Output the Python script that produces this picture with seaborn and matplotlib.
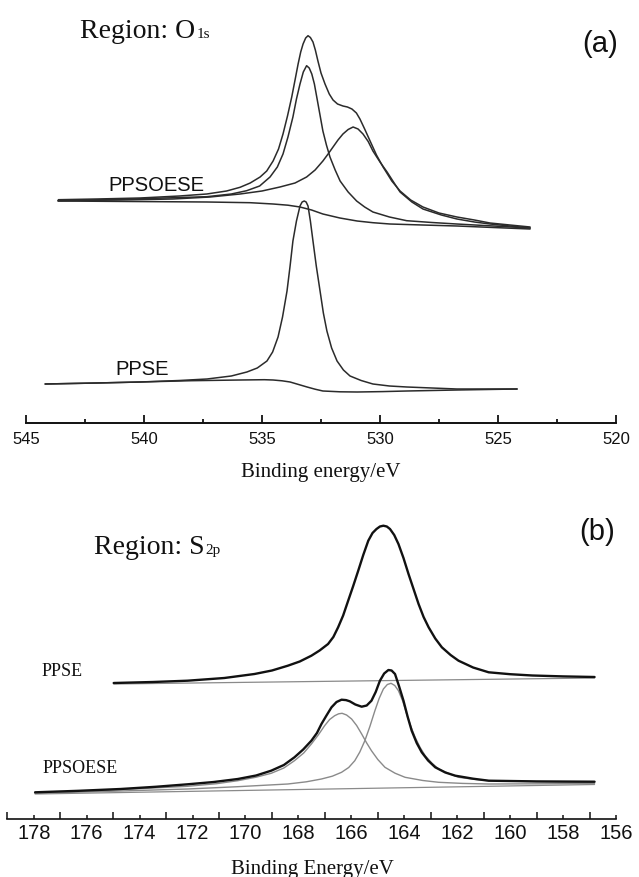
import matplotlib
matplotlib.use("Agg")
import matplotlib.pyplot as plt
import seaborn as sns
import pandas as pd

# ---------------- data ----------------
# Panel (a): O1s region, binding energy (eV) / intensity (a.u.)
o1s_soese_env_e = [543.63, 542.0, 540.17, 538.5, 537.34, 536.5, 535.93, 535.5, 535.08, 534.8,
                   534.53, 534.3, 534.11, 533.92, 533.74, 533.6, 533.47, 533.36, 533.26, 533.15,
                   533.05, 532.95, 532.84, 532.74, 532.63, 532.5, 532.33, 532.15, 531.99, 531.8,
                   531.57, 531.38, 531.19, 531.0, 530.85, 530.65, 530.42, 530.15, 529.87, 529.5,
                   529.15, 528.7, 528.18, 527.5, 526.74, 526.0, 525.34, 524.5, 523.64]
o1s_soese_env_i = [229.3, 230, 231, 233, 235, 238, 241.7, 246, 252, 258,
                   268, 280, 295, 313, 332, 349, 365, 377, 385, 391,
                   393.3, 391.5, 387, 379, 368, 356, 345, 335, 329, 325,
                   323, 322, 320, 316, 310, 300, 288, 274, 262, 248,
                   238, 229, 222, 216, 212, 209, 206, 204, 202]
o1s_soese_c1_e = [543.64, 540.5, 537.34, 536.3, 535.65, 535.1, 534.66, 534.35, 534.11, 533.9,
                  533.69, 533.54, 533.39, 533.25, 533.11, 533.0, 532.89, 532.78, 532.68, 532.55,
                  532.42, 532.27, 532.12, 531.9, 531.69, 531.35, 530.99, 530.65, 530.30, 529.6,
                  528.87, 527.8, 526.75, 525.2, 523.64]
o1s_soese_c1_i = [228.3, 230, 232.3, 235, 238.3, 243, 252, 262, 275, 292,
                  312, 330, 345, 357, 363.3, 361, 355, 345, 332, 315,
                  298, 284, 272, 259, 248, 237, 228, 222, 217, 212,
                  208.3, 206.5, 205, 203, 201]
o1s_soese_c2_e = [543.64, 541.0, 538.77, 537.2, 535.93, 535.0, 534.24, 533.6, 533.11, 532.75,
                  532.42, 532.2, 531.99, 531.78, 531.57, 531.35, 531.14, 530.93, 530.72, 530.5,
                  530.30, 530.0, 529.70, 529.4, 529.15, 528.65, 528.18, 527.4, 526.74, 526.0,
                  525.34, 524.5, 523.64]
o1s_soese_c2_i = [228.3, 229, 230, 232, 235, 238, 242, 246, 252, 259,
                  268, 275, 282, 289, 295, 299.5, 302, 300, 295, 287.5,
                  278, 267, 257, 246, 237, 227, 220, 214, 210, 207,
                  205, 203, 201]
o1s_soese_bg_e = [543.64, 540.5, 537.33, 535.5, 534.53, 533.9, 533.39, 532.9, 532.42, 531.7,
                  530.97, 530.3, 529.58, 528.2, 526.74, 525.2, 523.64]
o1s_soese_bg_i = [228, 227.5, 227, 226.3, 225, 223.8, 222, 219, 215, 211,
                  208, 206.3, 205, 204, 203, 201.5, 200]

o1s_pse_env_e = [544.19, 542.0, 540.17, 538.5, 537.33, 536.3, 535.64, 535.2, 534.79, 534.55,
                 534.32, 534.13, 533.94, 533.81, 533.69, 533.54, 533.39, 533.30, 533.21, 533.13,
                 533.05, 532.95, 532.84, 532.70, 532.54, 532.40, 532.25, 532.05, 531.82, 531.55,
                 531.27, 530.8, 530.30, 529.6, 528.86, 527.8, 526.74, 525.5, 524.19]
o1s_pse_env_i = [45, 46, 47, 48.5, 50, 53, 57, 61, 68, 77,
                 92, 112, 138, 163, 188, 208, 223, 227, 228, 227,
                 223, 208, 188, 163, 138, 116, 98, 81, 68, 59,
                 53, 48.5, 45, 43, 42, 41, 40, 40, 40]
o1s_pse_bg_e = [544.19, 542.0, 540.17, 538.0, 535.93, 534.9, 534.53, 534.15, 533.81, 533.45,
                533.09, 532.75, 532.42, 531.7, 530.97, 529.9, 528.86, 526.74, 524.19]
o1s_pse_bg_i = [45, 46, 47, 48.3, 49, 49.3, 49, 48.2, 47, 44.5,
                42, 39.8, 38, 37.2, 37, 37.4, 38, 39, 40]

o1s_ticks = [545, 540, 535, 530, 525, 520]
o1s_minor = [542.5, 537.5, 532.5, 527.5, 522.5]

# Panel (b): S2p region
s2p_pse_env_e = [174.98, 173.5, 172.19, 170.8, 169.66, 169.0, 168.40, 167.95, 167.51, 167.2,
                 166.88, 166.68, 166.50, 166.31, 166.12, 165.93, 165.74, 165.55, 165.36, 165.2,
                 165.05, 164.92, 164.79, 164.66, 164.54, 164.38, 164.22, 164.03, 163.84, 163.65,
                 163.46, 163.27, 163.08, 162.83, 162.58, 162.25, 161.95, 161.4, 160.81, 160.0,
                 159.16, 158.0, 156.81]
s2p_pse_env_i = [146, 147, 148.3, 151, 155, 158.5, 163.3, 167.5, 173.3, 178.5,
                 185, 192, 201.7, 213.5, 228.3, 243, 258.3, 274, 288.3, 296,
                 300, 302.5, 303.3, 302.5, 300, 294, 285, 271, 255, 240,
                 225, 212, 201.7, 190.5, 181.7, 174, 168.3, 161.5, 156.7, 154.8,
                 153.5, 152.6, 152]
s2p_pse_bg_e = [174.98, 156.81]
s2p_pse_bg_i = [145, 151]

s2p_soese_env_e = [177.95, 176.3, 174.72, 173.4, 172.19, 171.2, 170.29, 169.6, 169.03, 168.55,
                   168.15, 167.82, 167.51, 167.3, 167.13, 166.94, 166.75, 166.56, 166.37, 166.2,
                   166.06, 165.85, 165.61, 165.42, 165.24, 165.08, 164.92, 164.76, 164.60, 164.48,
                   164.35, 164.2, 164.03, 163.87, 163.72, 163.53, 163.34, 163.1, 162.83, 162.45,
                   162.07, 161.4, 160.81, 159.0, 156.81]
s2p_soese_env_i = [36.7, 38.2, 40, 42.2, 44.7, 47, 50, 53.5, 58.3, 64,
                   71.7, 79.5, 88.3, 96, 105, 113.5, 121.7, 127, 129.3, 128.9,
                   127.7, 124.5, 122.3, 123.5, 128.3, 137, 148.3, 155.5, 159, 158.5,
                   155, 143, 128.3, 112, 98.3, 86, 76.7, 68.5, 61.7, 56.5,
                   53.3, 50.3, 48.3, 47.6, 47.3]
s2p_soese_cb_e = [177.95, 175.0, 172.19, 171.1, 170.29, 169.6, 169.03, 168.55, 168.15, 167.8,
                  167.51, 167.25, 167.01, 166.82, 166.63, 166.48, 166.35, 166.18, 165.99, 165.8,
                  165.61, 165.42, 165.24, 165.0, 164.73, 164.35, 163.97, 163.3, 162.70, 161.8,
                  160.81, 158.8, 156.81]
s2p_soese_cb_i = [35.7, 39, 42.7, 45.3, 48.3, 51.8, 55.7, 61, 68.3, 76,
                  85, 94, 103.3, 109.5, 113.3, 115.2, 115.7, 114, 110, 103.5,
                  95, 86, 78.3, 69.5, 61.7, 55.8, 51.7, 48.5, 46.7, 45.6,
                  45, 45.2, 45.5]
s2p_soese_ca_e = [177.95, 175.0, 172.19, 170.3, 168.40, 167.7, 167.13, 166.72, 166.37, 166.1,
                  165.87, 165.68, 165.49, 165.3, 165.11, 164.95, 164.79, 164.64, 164.50, 164.36,
                  164.22, 164.06, 163.91, 163.75, 163.59, 163.4, 163.21, 162.95, 162.70, 162.3,
                  161.95, 161.4, 160.81, 158.8, 156.81]
s2p_soese_ca_i = [35.7, 37.8, 40, 42.3, 45, 47.2, 50, 52.8, 56.7, 61.5,
                  68.3, 77, 88.3, 102.5, 118.3, 130.5, 140, 144.5, 145.7, 143.5,
                  138.3, 128, 115, 102.5, 91.7, 81.5, 73.3, 65.7, 60, 55.3,
                  51.7, 49.8, 48.3, 47.2, 46.5]
s2p_soese_bg_e = [177.95, 156.81]
s2p_soese_bg_i = [35, 44.5]

s2p_ticks = list(range(178, 155, -2))
s2p_minor = list(range(179, 156, -2))

# ---------------- figure ----------------
sns.set_theme(style="white")
plt.rcParams["font.family"] = ["Liberation Sans", "DejaVu Sans"]

W, H = 639, 878
fig = plt.figure(figsize=(W / 100, H / 100), dpi=100)

def fx(x):
    return x / W

def fy(y):
    return 1 - y / H

SERIF = ["Liberation Serif", "DejaVu Serif"]
SANS = ["Liberation Sans", "DejaVu Sans"]

def draw(ax, e, i, color, lw):
    df = pd.DataFrame({"E": e, "I": i})
    sns.lineplot(data=df, x="E", y="I", ax=ax, color=color, lw=lw, sort=False,
                 estimator=None, legend=False)

# ---- panel (a) ----
ax1 = fig.add_axes([fx(26), fy(424), fx(616) - fx(26), fy(0) - fy(424)])
dark = "#2b2b2b"
draw(ax1, o1s_soese_bg_e, o1s_soese_bg_i, dark, 1.1)
draw(ax1, o1s_soese_c1_e, o1s_soese_c1_i, dark, 1.1)
draw(ax1, o1s_soese_c2_e, o1s_soese_c2_i, dark, 1.1)
draw(ax1, o1s_soese_env_e, o1s_soese_env_i, dark, 1.1)
draw(ax1, o1s_pse_bg_e, o1s_pse_bg_i, dark, 1.1)
draw(ax1, o1s_pse_env_e, o1s_pse_env_i, dark, 1.1)
ax1.set_xlim(545, 520)
ax1.set_ylim(6, 430)
ax1.set_xticks(o1s_ticks)
ax1.set_xticks(o1s_minor, minor=True)
ax1.set_xticklabels([str(t) for t in o1s_ticks], fontsize=12, family=SANS)
ax1.tick_params(axis="x", which="major", direction="in", length=6, width=1.3, pad=6,
                bottom=True, colors="#111111")
ax1.tick_params(axis="x", which="minor", direction="in", length=3, width=1.3, bottom=True,
                colors="#111111")
ax1.set_yticks([])
ax1.set_xlabel("")
ax1.set_ylabel("")
for s in ["top", "left", "right"]:
    ax1.spines[s].set_visible(False)
ax1.spines["bottom"].set_color("#111111")
ax1.spines["bottom"].set_linewidth(1.4)
ax1.patch.set_alpha(0)

# ---- panel (b) ----
ax2 = fig.add_axes([fx(7.3), fy(820), fx(616) - fx(7.3), fy(480) - fy(820)])
grey = "#8a8a8a"
draw(ax2, s2p_pse_bg_e, s2p_pse_bg_i, grey, 0.9)
draw(ax2, s2p_soese_bg_e, s2p_soese_bg_i, grey, 0.9)
draw(ax2, s2p_soese_cb_e, s2p_soese_cb_i, grey, 1.0)
draw(ax2, s2p_soese_ca_e, s2p_soese_ca_i, grey, 1.0)
draw(ax2, s2p_soese_env_e, s2p_soese_env_i, "#111111", 1.7)
draw(ax2, s2p_pse_env_e, s2p_pse_env_i, "#111111", 1.7)
ax2.set_xlim(179, 156)
ax2.set_ylim(10, 350)
ax2.set_xticks(s2p_ticks)
ax2.set_xticks(s2p_minor, minor=True)
ax2.set_xticklabels([str(t) for t in s2p_ticks], fontsize=14.5, family=SANS)
ax2.tick_params(axis="x", which="major", direction="in", length=3, width=1.1, pad=3,
                bottom=True, colors="#111111")
ax2.tick_params(axis="x", which="minor", direction="in", length=5, width=1.1, bottom=True,
                colors="#111111")
ax2.set_yticks([])
ax2.set_xlabel("")
ax2.set_ylabel("")
for s in ["top", "left", "right"]:
    ax2.spines[s].set_visible(False)
ax2.spines["bottom"].set_color("#111111")
ax2.spines["bottom"].set_linewidth(1.2)
ax2.patch.set_alpha(0)

# ---- texts ----
tc = "#111111"
fig.text(fx(80), fy(38), "Region: O", fontsize=20, family=SERIF, va="baseline", ha="left", color=tc)
fig.text(fx(196.5), fy(38), "1s", fontsize=11, family=SERIF, va="baseline", ha="left", color=tc)
fig.text(fx(600), fy(44), "(a)", fontsize=21, family=SANS, va="center", ha="center", color=tc)
fig.text(fx(108), fy(190.7), "PPSOESE", fontsize=14.5, family=SANS, va="baseline", ha="left", color=tc)
fig.text(fx(115), fy(375), "PPSE", fontsize=14.5, family=SANS, va="baseline", ha="left", color=tc)
fig.text(fx(321), fy(473), "Binding energy/eV", fontsize=15, family=SERIF, va="center", ha="center", color=tc)

fig.text(fx(597), fy(532), "(b)", fontsize=21, family=SANS, va="center", ha="center", color=tc)
fig.text(fx(94), fy(554.3), "Region: S", fontsize=20, family=SERIF, va="baseline", ha="left", color=tc)
fig.text(fx(205), fy(554.3), "2p", fontsize=11, family=SERIF, va="baseline", ha="left", color=tc)
fig.text(fx(42), fy(676), "PPSE", fontsize=13, family=SERIF, va="baseline", ha="left", color=tc)
fig.text(fx(43), fy(773), "PPSOESE", fontsize=13, family=SERIF, va="baseline", ha="left", color=tc)
fig.text(fx(312), fy(870), "Binding Energy/eV", fontsize=15, family=SERIF, va="center", ha="center", color=tc)

fig.savefig("out.png", dpi=100, facecolor="white")
